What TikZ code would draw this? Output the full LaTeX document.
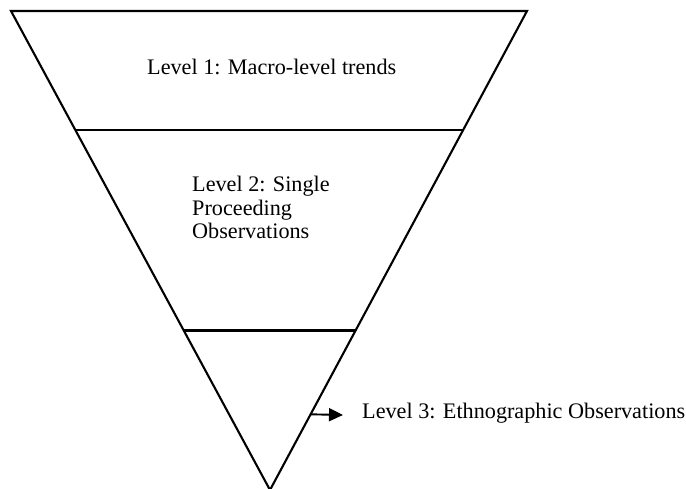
\documentclass[tikz,border=0pt]{standalone}
\usepackage{fontspec}
\setmainfont{Liberation Serif}
\usetikzlibrary{arrows.meta,calc}
\tikzset{
  edge/.style={line width=2.1pt,line join=miter},
  lbl/.style={inner sep=0pt,anchor=base west,align=left,font=\fontsize{22.2}{23.5}\selectfont},
}
\begin{document}
\begin{tikzpicture}[x=1pt,y=-1pt]
\useasboundingbox (0,0) rectangle (686,489);
\coordinate (A) at (11,11);
\coordinate (B) at (527,11);
\coordinate (C) at (270,490);
\draw[edge] (A) -- (B) -- (C) -- cycle;
\coordinate (L1a) at ($(A)!0.248!(C)$);
\coordinate (L1b) at ($(B)!0.248!(C)$);
\coordinate (L2a) at ($(A)!0.667!(C)$);
\coordinate (L2b) at ($(B)!0.667!(C)$);
\draw[edge] (L1a) -- (L1b);
\draw[edge] (L2a) -- (L2b);
\node[lbl] (l1) at (147,75) {Level 1: Macro-level trends};
\node[lbl,anchor=north west] (l2) at (192,176) {Level 2: Single\\Proceeding\\Observations};
\node[lbl] (l3) at (362,418) {Level 3: Ethnographic Observations};
\coordinate (arrS) at ($(B)!0.842!(C)$);
\coordinate (arrE) at (343,415);
\draw[line width=1.9pt,-{Triangle[length=14pt,width=13pt]}] (arrS) -- (arrE);
\end{tikzpicture}
\end{document}
